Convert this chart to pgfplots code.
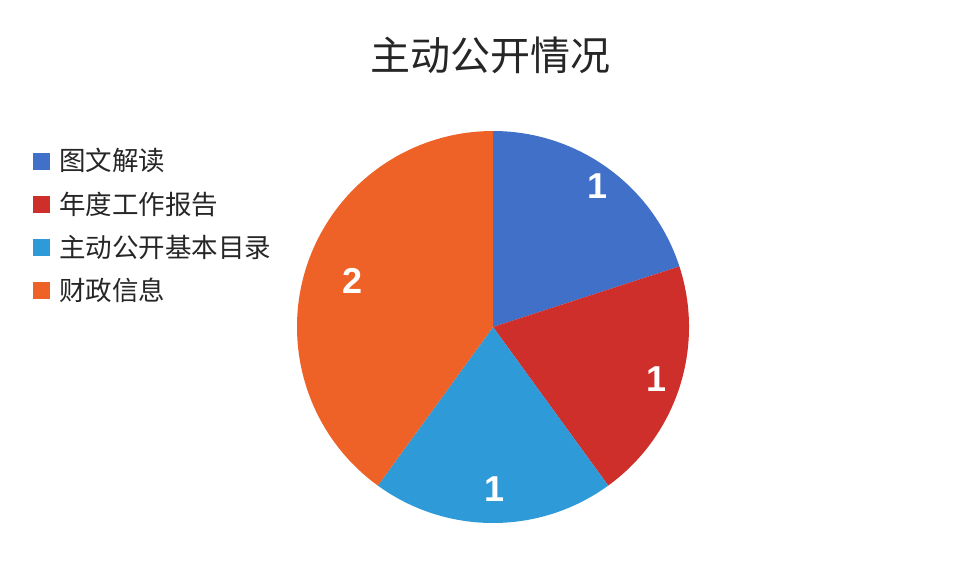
\documentclass[border=0pt]{standalone}
\usepackage{pgfplots}
\usepackage{pgfplotstable}
\pgfplotsset{compat=1.18}
\usepackage{fontspec}
\setmainfont{Noto Sans CJK SC}
\newfontfamily\numfont{Liberation Sans}

\definecolor{cblue}{HTML}{4070C8}
\definecolor{cred}{HTML}{CF2F2A}
\definecolor{clblue}{HTML}{2E9AD8}
\definecolor{corange}{HTML}{EE6228}
\definecolor{txt}{HTML}{262626}

% label value colour label-distance(pt)
\pgfplotstableread{
label value color lr
图文解读 1 cblue 87
年度工作报告 1 cred 85
主动公开基本目录 1 clblue 81
财政信息 2 corange 75
}\piedata

\begin{document}
\begin{tikzpicture}
\begin{axis}[
  scale only axis,
  width=481.5pt, height=292.5pt,
  xmin=0, xmax=963, ymin=0, ymax=585,
  hide axis, clip=false,
  legend image code/.code={\fill[#1] (0pt,-4pt) rectangle (8pt,4pt);},
  legend cell align=left,
  legend style={
    at={(axis description cs:0.0343,0.747)}, anchor=north west,
    draw=none, fill=none, inner sep=0pt,
    font=\fontsize{13.25}{15}\selectfont, text=txt,
    row sep=8.9pt, column sep=4.5pt,
    nodes={inner sep=0pt},
  },
]
\path (axis cs:0,0) rectangle (axis cs:963,585);

\node[text=txt, font=\fontsize{20}{24}\selectfont] at (axis cs:490,530) {主动公开情况};

\pgfplotstablegetrowsof{\piedata}
\pgfmathtruncatemacro\nlast{\pgfplotsretval-1}
\def\total{0}
\pgfplotsforeachungrouped \i in {0,...,\nlast} {
  \pgfplotstablegetelem{\i}{value}\of\piedata
  \pgfmathsetmacro\total{\total+\pgfplotsretval}
}
\def\start{90}
\pgfplotsforeachungrouped \i in {0,...,\nlast} {
  \pgfplotstablegetelem{\i}{value}\of\piedata \let\v\pgfplotsretval
  \pgfplotstablegetelem{\i}{color}\of\piedata \let\c\pgfplotsretval
  \pgfplotstablegetelem{\i}{label}\of\piedata \let\l\pgfplotsretval
  \pgfplotstablegetelem{\i}{lr}\of\piedata \let\lr\pgfplotsretval
  \pgfmathsetmacro\stop{\start-360*\v/\total}
  \pgfmathsetmacro\mid{(\start+\stop)/2}
  \edef\cmd{%
    \noexpand\fill[\c] (axis cs:493,258) -- ++(\start:98pt)
      arc[start angle=\start, end angle=\stop, radius=98pt] -- cycle;
    \noexpand\node[text=white, font=\noexpand\numfont\noexpand\bfseries\noexpand\fontsize{18}{20}\noexpand\selectfont]
      at ([shift={(\mid:\lr pt)}]axis cs:495,258) {\v};
    \noexpand\addlegendimage{\c}
    \noexpand\addlegendentry{\l}
  }
  \cmd
  \let\start\stop
}
\end{axis}
\end{tikzpicture}
\end{document}
